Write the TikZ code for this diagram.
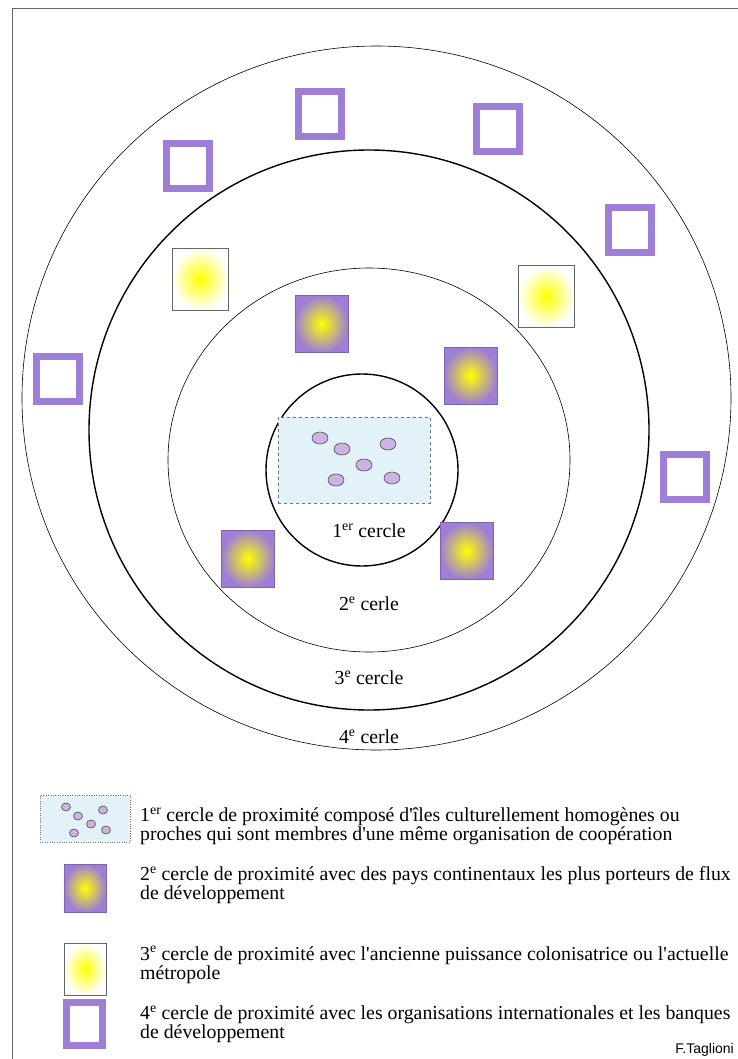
\documentclass[tikz,border=0pt]{standalone}
\usepackage{fontspec}
\newfontfamily\legfont{Liberation Serif}
\newfontfamily\signfont{Liberation Sans}
\usepackage{tikz}
\usetikzlibrary{shapes.geometric}
\definecolor{orgpurple}{RGB}{158,126,214}
\definecolor{islefill}{RGB}{205,178,228}
\definecolor{seafill}{RGB}{226,242,248}
\tikzset{
    ring/.style={draw, line width=0.6pt},
    ringthick/.style={draw, line width=1.4pt},
    isle/.style={ellipse, draw=black!70, fill=islefill, line width=0.6pt, minimum width=16pt, minimum height=12pt, inner sep=0pt},
    smallisle/.style={isle, minimum width=9pt, minimum height=8pt},
    sea/.style={rectangle, draw=black!55, dashed, fill=seafill, inner sep=0pt},
    contbox/.style={rectangle, inner sep=0pt, minimum width=53pt, minimum height=57pt, inner color=yellow, outer color=orgpurple, draw=orgpurple!80!black, line width=0.4pt},
    metrobox/.style={rectangle, inner sep=0pt, minimum width=56pt, minimum height=62pt, inner color=yellow, outer color=white, draw=black!60, line width=0.6pt},
    orgbox/.style={rectangle, inner sep=0pt, minimum width=43pt, minimum height=45pt, draw=orgpurple, line width=7pt},
    ringlabel/.style={font=\legfont\fontsize{19.8}{19}\selectfont, inner sep=0pt},
    legtext/.style={font=\legfont\fontsize{19.8}{19}\selectfont, align=left, anchor=west, inner sep=0pt}
}
\begin{document}
\begin{tikzpicture}[x=1pt, y=-1pt]
        \useasboundingbox (0,0) rectangle (738,1059);
        \draw[black!60] (12,1059) -- (12,8) -- (738,8);
        % cercles
        \draw[ring] (376.5,398) ellipse [x radius=354.5, y radius=352];
        \draw[ringthick] (369,430) circle [radius=280];
        \draw[ring] (369,460) ellipse [x radius=201, y radius=192];
        \draw[ringthick] (362,470) circle [radius=96];
        % 1er cercle
        \node (sea) [sea, minimum width=152pt, minimum height=86pt] at (354,460) {};
        \node (i1) [isle] at (320,438) {};
        \node (i2) [isle] at (342,449) {};
        \node (i3) [isle] at (388,444) {};
        \node (i4) [isle] at (364,465) {};
        \node (i5) [isle] at (336,480) {};
        \node (i6) [isle] at (392,478) {};
        % 2e cercle
        \node (c1) [contbox] at (321.5,324) {};
        \node (c2) [contbox] at (470.5,375.5) {};
        \node (c3) [contbox] at (248,558.5) {};
        \node (c4) [contbox] at (466.5,551) {};
        % 3e cercle
        \node (m1) [metrobox] at (200,279) {};
        \node (m2) [metrobox] at (546.5,296.5) {};
        % 4e cercle
        \node (o1) [orgbox] at (187.5,166) {};
        \node (o2) [orgbox] at (320,114) {};
        \node (o3) [orgbox] at (497.5,129) {};
        \node (o4) [orgbox] at (629.5,230) {};
        \node (o5) [orgbox] at (57.5,379) {};
        \node (o6) [orgbox] at (685,476.5) {};
        % noms des cercles
        \node (l1) [ringlabel] at (369,531) {1\textsuperscript{er} cercle};
        \node (l2) [ringlabel] at (369,604) {2\textsuperscript{e} cerle};
        \node (l3) [ringlabel] at (369,678) {3\textsuperscript{e} cercle};
        \node (l4) [ringlabel] at (369,737) {4\textsuperscript{e} cerle};
        % legende
        \node (k1) [sea, dotted, minimum width=90pt, minimum height=47pt] at (85,818.5) {};
        \node (k1a) [smallisle] at (66,807) {};
        \node (k1b) [smallisle] at (78,816) {};
        \node (k1c) [smallisle] at (103,810) {};
        \node (k1d) [smallisle] at (91,824) {};
        \node (k1e) [smallisle] at (74,833) {};
        \node (k1f) [smallisle] at (106,830) {};
        \node (k2) [contbox, minimum width=42pt, minimum height=48pt] at (85,888) {};
        \node (k3) [metrobox, minimum width=42pt, minimum height=52pt] at (85,969) {};
        \node (k4) [orgbox, minimum width=36pt, minimum height=43pt] at (84.5,1024) {};
        \node (t1) [legtext] at (140,826.5) {1\textsuperscript{er} cercle de proximité composé d'îles culturellement homogènes ou\\proches qui sont membres d'une même organisation de coopération};
        \node (t2) [legtext] at (140,885.5) {2\textsuperscript{e} cercle de proximité avec des pays continentaux les plus porteurs de flux\\de développement};
        \node (t3) [legtext] at (140,965) {3\textsuperscript{e} cercle de proximité avec l'ancienne puissance colonisatrice ou l'actuelle\\métropole};
        \node (t4) [legtext] at (140,1024.5) {4\textsuperscript{e} cercle de proximité avec les organisations internationales et les banques\\de développement};
        \node (sig) [font=\signfont\fontsize{14}{15}\selectfont, anchor=east, inner sep=0pt] at (734,1050) {F.Taglioni};
\end{tikzpicture}
\end{document}
